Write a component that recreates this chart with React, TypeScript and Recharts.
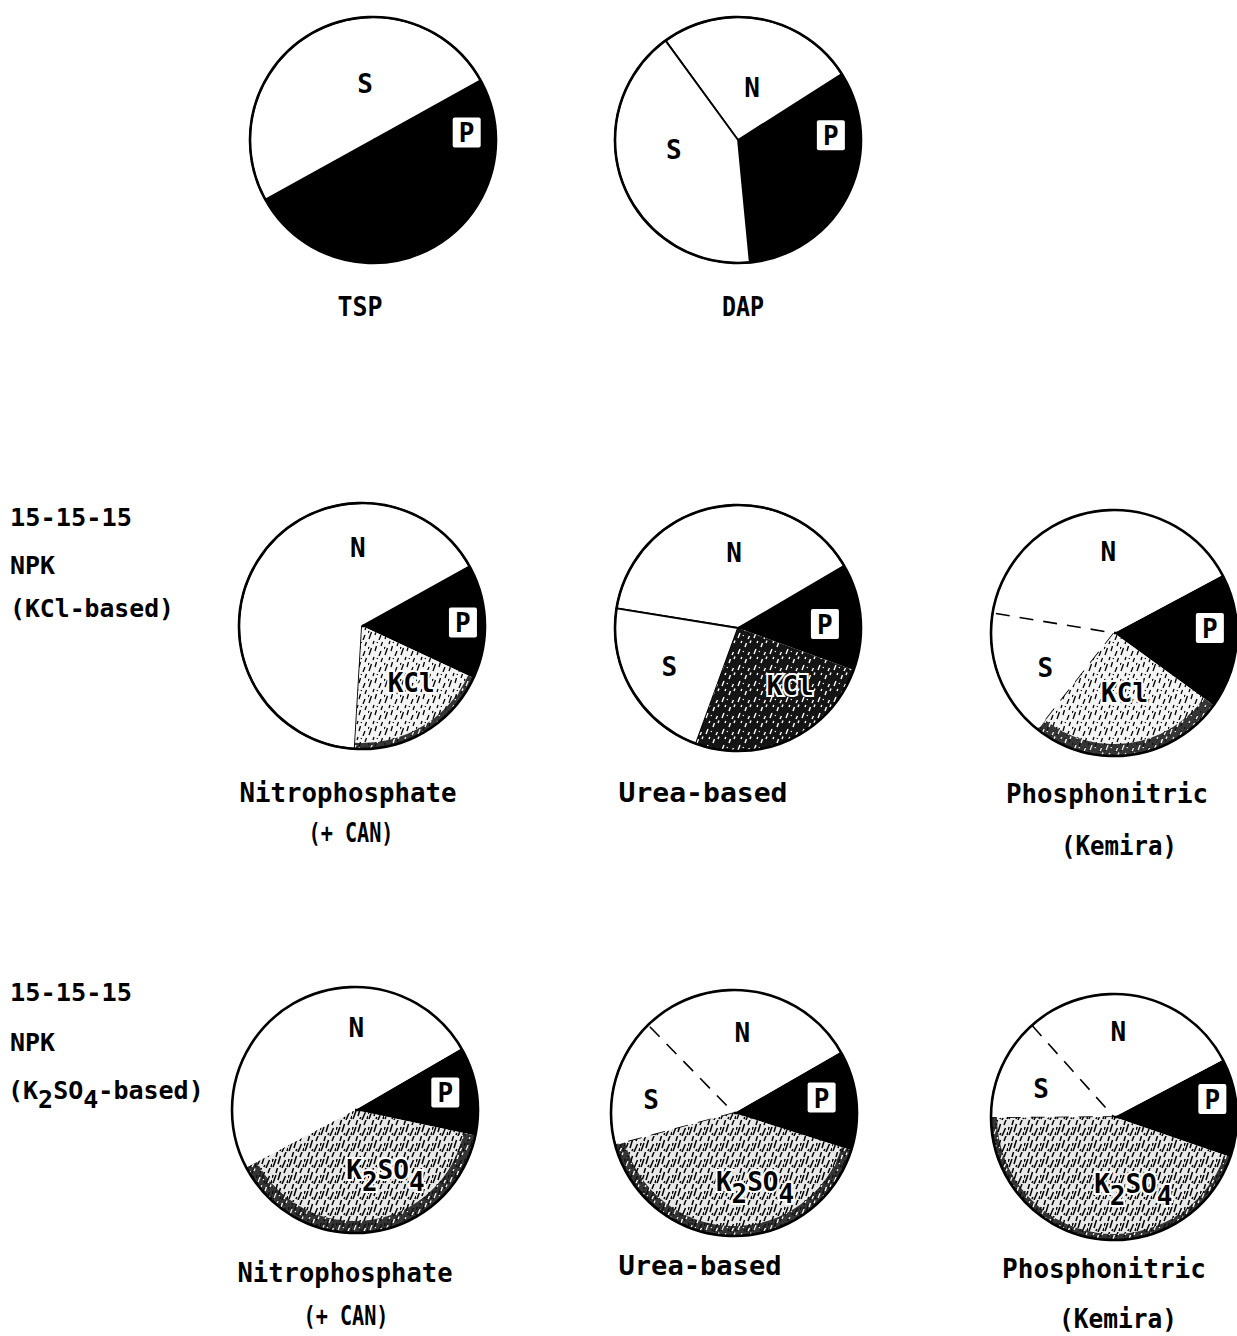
import { PieChart, Pie, Cell } from "recharts";

const W = 1237;
const H = 1336;
const R = 123;
const FONT = "'DejaVu Sans Mono', 'Liberation Mono', monospace";

// slice shares in percent
const tspSlices = [
  { name: "P", value: 50 },
  { name: "S", value: 50 },
];
const dapSlices = [
  { name: "P", value: 32.5 },
  { name: "N", value: 26 },
  { name: "S", value: 41.5 },
];
const nitroKclSlices = [
  { name: "P", value: 15 },
  { name: "N", value: 66 },
  { name: "KCl", value: 19 },
];
const ureaKclSlices = [
  { name: "P", value: 14 },
  { name: "N", value: 39 },
  { name: "S", value: 22 },
  { name: "KCl", value: 25 },
];
const kemiraKclSlices = [
  { name: "P", value: 17.8 },
  { name: "N", value: 39.6 },
  { name: "S", value: 17 },
  { name: "KCl", value: 25.6 },
];
const nitroK2so4Slices = [
  { name: "P", value: 11.7 },
  { name: "N", value: 49.4 },
  { name: "K2SO4", value: 38.9 },
];
const ureaK2so4Slices = [
  { name: "P", value: 13.2 },
  { name: "N", value: 29 },
  { name: "S", value: 16.9 },
  { name: "K2SO4", value: 40.9 },
];
const kemiraK2so4Slices = [
  { name: "P", value: 13 },
  { name: "N", value: 28.9 },
  { name: "S", value: 13.5 },
  { name: "K2SO4", value: 44.6 },
];

type Slice = { name: string; value: number };
type PieDef = {
  key: string;
  data: Slice[];
  cx: number;
  cy: number;
  start: number;
  edge: "solid" | "dashed";
  tex: string;
  rim: number;
  // label spots as [angle deg, radius px] per slice
  labels: number[][];
};

const PIES: PieDef[] = [
  { key: "tsp", data: tspSlices, cx: 373, cy: 140, start: -151, edge: "solid", tex: "", rim: 0,
    labels: [[4.6, 94], [98, 57]] },
  { key: "dap", data: dapSlices, cx: 738, cy: 140, start: -84.5, edge: "solid", tex: "", rim: 0,
    labels: [[3, 93], [75, 54], [189, 65]] },
  { key: "nkcl", data: nitroKclSlices, cx: 362, cy: 626, start: -25, edge: "solid", tex: "texLight", rim: 6,
    labels: [[2, 101], [93, 78], [-49, 75]] },
  { key: "ukcl", data: ureaKclSlices, cx: 738, cy: 628, start: -20, edge: "solid", tex: "texDark", rim: 0,
    labels: [[2.6, 87], [93, 75], [209.5, 79], [-48, 78]] },
  { key: "kkcl", data: kemiraKclSlices, cx: 1114, cy: 633, start: -36, edge: "dashed", tex: "texLight", rim: 12,
    labels: [[3, 96], [94, 81], [207, 77], [-80, 61]] },
  { key: "nk2", data: nitroK2so4Slices, cx: 355, cy: 1110, start: -12, edge: "dashed", tex: "texMid", rim: 12,
    labels: [[11, 92], [89, 82], [-63, 67]] },
  { key: "uk2", data: ureaK2so4Slices, cx: 734, cy: 1113, start: -17.6, edge: "dashed", tex: "texMid", rim: 10,
    labels: [[10, 89], [84, 80], [171, 84], [-73, 72]] },
  { key: "kk2", data: kemiraK2so4Slices, cx: 1114, cy: 1117, start: -19, edge: "dashed", tex: "texMid", rim: 6,
    labels: [[10.4, 100], [87, 85], [159, 78], [-74, 70]] },
];

// captions: [text, x centre, y, width]
const CAPTIONS: [string, number, number, number][] = [
  ["TSP", 360, 306, 45],
  ["DAP", 743, 306, 42],
  ["Nitrophosphate", 348, 792, 217],
  ["(+ CAN)", 351, 832, 85],
  ["Urea-based", 703, 792, 169],
  ["Phosphonitric", 1107, 793, 202],
  ["(Kemira)", 1119, 845, 116],
  ["Nitrophosphate", 345, 1272, 215],
  ["(+ CAN)", 346, 1315, 85],
  ["Urea-based", 700, 1265, 163],
  ["Phosphonitric", 1104, 1268, 204],
  ["(Kemira)", 1118, 1318, 118],
];

const ROW_LABELS: [string, number, number][] = [
  ["15-15-15", 517, 122],
  ["NPK", 565, 45],
  ["(KCl-based)", 608, 164],
  ["15-15-15", 992, 122],
  ["NPK", 1042, 45],
];

const isPotash = (name: string) => name === "KCl" || name === "K2SO4";

function sliceFill(name: string, tex: string) {
  if (name === "P") return "#000";
  if (isPotash(name)) return `url(#${tex})`;
  return "#fff";
}

function makeLabel(pie: PieDef) {
  return (props: any) => {
    const i = props.index;
    const [a, r] = pie.labels[i];
    const rad = (a * Math.PI) / 180;
    const x = pie.cx + r * Math.cos(rad);
    const y = pie.cy - r * Math.sin(rad);
    const name = pie.data[i].name;
    const common = {
      fontFamily: FONT,
      fontWeight: 700,
      fontSize: 26,
      textAnchor: "middle" as const,
      dominantBaseline: "central" as const,
      fill: "#000",
    };
    if (name === "P") {
      return (
        <g>
          <rect x={x - 14} y={y - 15} width={28} height={30} rx={2} fill="#fff" />
          <text x={x} y={y + 1} {...common}>P</text>
        </g>
      );
    }
    if (name === "K2SO4") {
      return (
        <text x={x} y={y} {...common} stroke="#fff" strokeWidth={4} paintOrder="stroke">
          K<tspan dy={12}>2</tspan>
          <tspan dy={-12}>SO</tspan>
          <tspan dy={12}>4</tspan>
        </text>
      );
    }
    if (name === "KCl") {
      return (
        <text x={x} y={y} {...common} stroke="#fff" strokeWidth={4} paintOrder="stroke">
          KCl
        </text>
      );
    }
    return (
      <text x={x} y={y} {...common}>
        {name}
      </text>
    );
  };
}

function edgeStyle(pie: PieDef, name: string) {
  if (name === "P" || isPotash(name)) return { stroke: "none", strokeWidth: 0 };
  if (pie.edge === "solid") return { stroke: "#000", strokeWidth: 1.8 };
  if (name === "S") return { stroke: "#000", strokeWidth: 1.6, strokeDasharray: "14 10" };
  return { stroke: "none", strokeWidth: 0 };
}

export default function App() {
  return (
    <div style={{ position: "absolute", left: 0, top: 0, width: W, height: H, background: "#fff" }}>
      <PieChart width={W} height={H} margin={{ top: 0, right: 0, bottom: 0, left: 0 }}>
        <defs>
          <pattern id="texLight" width={16} height={16} patternUnits="userSpaceOnUse">
            <rect width={16} height={16} fill="#f4f4f4" />
            <path
              d="M1 15L3.5 8M7 11L8.5 6M11 16L13 11M5 4L6 1M13 6L14.5 2M0 9L1 7M9 3L9.6 2"
              stroke="#000"
              strokeWidth={1.3}
            />
          </pattern>
          <pattern id="texMid" width={16} height={16} patternUnits="userSpaceOnUse">
            <rect width={16} height={16} fill="#e8e8e8" />
            <path
              d="M1 15L4 7M6 12L8.5 4M10 16L13.5 8M4 5L5.5 0M12 5L14 0M0 10L1.2 7M15 15L16 12M8 15L8.8 13"
              stroke="#000"
              strokeWidth={1.5}
            />
          </pattern>
          <pattern id="texDark" width={16} height={16} patternUnits="userSpaceOnUse">
            <rect width={16} height={16} fill="#141414" />
            <path
              d="M2 14L4 9M9 7L10.5 3M12 15L13.5 12M5 3L5.8 1M14 3L15 0.5M7 12L7.6 11"
              stroke="#fff"
              strokeWidth={1.4}
            />
          </pattern>
        </defs>
        {PIES.map((p) => (
          <Pie
            key={p.key}
            data={p.data}
            dataKey="value"
            nameKey="name"
            cx={p.cx}
            cy={p.cy}
            innerRadius={0}
            outerRadius={R}
            startAngle={p.start}
            endAngle={p.start + 360}
            label={makeLabel(p)}
            labelLine={false}
            isAnimationActive={false}
          >
            {p.data.map((d, i) => (
              <Cell key={i} fill={sliceFill(d.name, p.tex)} {...edgeStyle(p, d.name)} />
            ))}
          </Pie>
        ))}
        {PIES.filter((p) => p.rim > 0).map((p) => (
          <Pie
            key={p.key + "-band"}
            data={p.data}
            dataKey="value"
            cx={p.cx}
            cy={p.cy}
            innerRadius={R - p.rim}
            outerRadius={R}
            startAngle={p.start}
            endAngle={p.start + 360}
            isAnimationActive={false}
          >
            {p.data.map((d, i) => (
              <Cell
                key={i}
                fill={isPotash(d.name) ? "url(#texDark)" : "none"}
                fillOpacity={0.85}
                stroke="none"
              />
            ))}
          </Pie>
        ))}
        {PIES.map((p) => (
          <Pie
            key={p.key + "-rim"}
            data={[{ value: 1 }]}
            dataKey="value"
            cx={p.cx}
            cy={p.cy}
            innerRadius={0}
            outerRadius={R}
            fill="none"
            stroke="#000"
            strokeWidth={2.6}
            isAnimationActive={false}
          />
        ))}
      </PieChart>
      <svg
        width={W}
        height={H}
        style={{ position: "absolute", left: 0, top: 0, pointerEvents: "none" }}
      >
        {CAPTIONS.map(([t, x, y, w], i) => (
          <text
            key={i}
            x={x}
            y={y}
            textAnchor="middle"
            dominantBaseline="central"
            fontFamily={FONT}
            fontWeight={700}
            fontSize={27}
            textLength={w}
            lengthAdjust="spacingAndGlyphs"
          >
            {t}
          </text>
        ))}
        {ROW_LABELS.map(([t, y, w], i) => (
          <text
            key={i}
            x={10}
            y={y}
            dominantBaseline="central"
            fontFamily={FONT}
            fontWeight={700}
            fontSize={25}
            textLength={w}
            lengthAdjust="spacingAndGlyphs"
          >
            {t}
          </text>
        ))}
        <text x={8} y={1090} dominantBaseline="central" fontFamily={FONT} fontWeight={700} fontSize={25}>
          (K<tspan dy={9}>2</tspan>
          <tspan dy={-9}>SO</tspan>
          <tspan dy={9}>4</tspan>
          <tspan dy={-9}>-based)</tspan>
        </text>
      </svg>
    </div>
  );
}
